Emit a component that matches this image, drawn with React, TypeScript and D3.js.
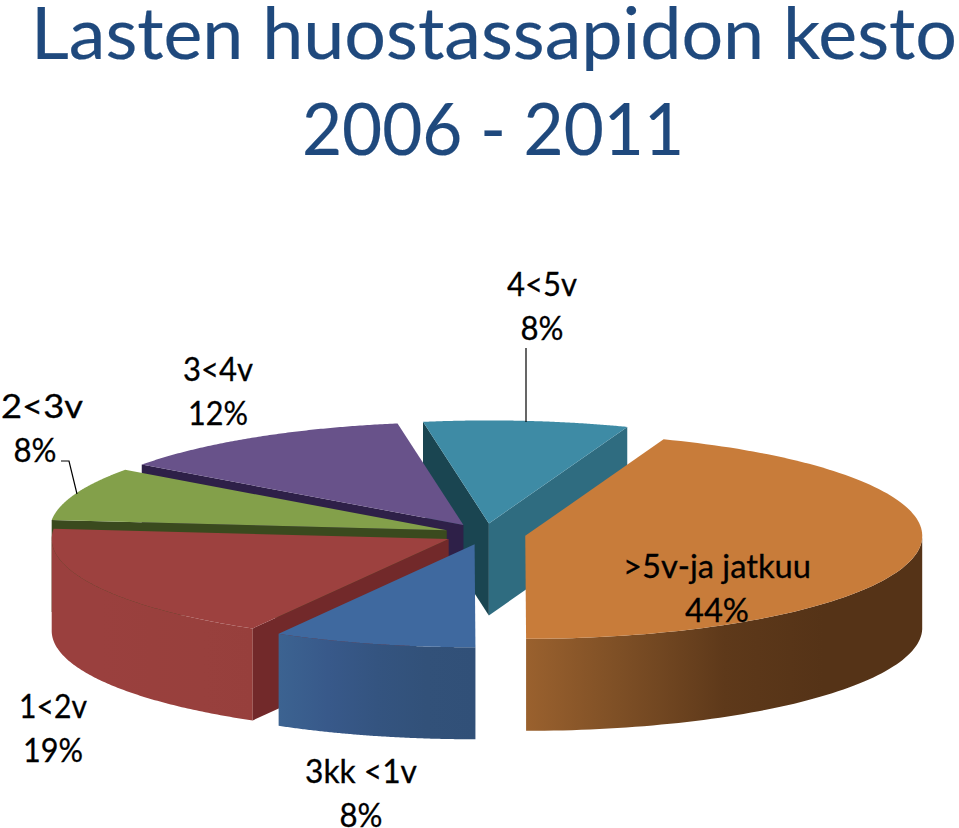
import React from "react";
import * as d3 from "d3";

const categories = [">5v-ja jatkuu", "3kk <1v", "1<2v", "2<3v", "3<4v", "4<5v"];
const percentLabels = ["44%", "8%", "19%", "8%", "12%", "8%"];
const shares = [44.3, 8.25, 18.35, 8.4, 12.38, 8.32];
const topColors = ["#C87C3A", "#3F699F", "#9D413F", "#83A04A", "#68528A", "#3E8BA5"];
const startSideColors = ["none", "none", "#72292A", "#3A4A1E", "#2E2048", "#1A4551"];
const endSideColors = ["none", "none", "none", "none", "none", "#2F6C80"];
const wallStops: string[][] = [
  ["#9A612E", "#7C4E25", "#5E391A", "#553317", "#553317"],
  ["#3C6391", "#38598A", "#345480", "#325179", "#315078"],
  ["#9A403E", "#9A403E", "#99403D", "#98403D", "#973F3C"],
  ["#83A04A"], ["#68528A"], ["#3E8BA5"],
];

const WIDTH = 959, HEIGHT = 828;
const CX = 485, CY = 534, RX = 397, RY = 103, DEPTH = 92, EXPLODE = 0.103;
const START_ANGLE = (20.4 * Math.PI) / 180;

const pieGen = d3.pie<number>().sort(null).startAngle(START_ANGLE).endAngle(START_ANGLE + 2 * Math.PI);
const arcs = pieGen(shares);
const line = d3.line();

function Slice({ i }: { i: number }) {
  const { startAngle: a0, endAngle: a1 } = arcs[i];
  const mid = (a0 + a1) / 2;
  const ax = CX + EXPLODE * RX * Math.sin(mid);
  const ay = CY - EXPLODE * RY * Math.cos(mid);
  const rim = (a: number): [number, number] => [ax + RX * Math.sin(a), ay - RY * Math.cos(a)];
  const apex: [number, number] = [ax, ay];
  const drop = (p: [number, number]): [number, number] => [p[0], p[1] + DEPTH];
  const samples = d3.range(0, 121).map((k) => a0 + ((a1 - a0) * k) / 120);
  const top = [apex, ...samples.map(rim)];

  // outer wall: the part of the rim that faces the viewer
  const wallAngles = samples.filter((a) => Math.cos(a) < 0);
  const wallTop = wallAngles.map(rim);
  const wall = [...wallTop, ...wallTop.map(drop).reverse()];
  const gid = `wall${i}`;
  const xs = wallTop.map((p) => p[0]);
  const stops = wallStops[i];

  const side = (p: [number, number]) => [apex, p, drop(p), drop(apex)] as [number, number][];
  return (
    <g>
      {wall.length > 0 && (
        <>
          <defs>
            <linearGradient id={gid} gradientUnits="userSpaceOnUse" x1={d3.min(xs)} x2={d3.max(xs)} y1={0} y2={0}>
              {stops.map((c, k) => (
                <stop key={k} offset={stops.length > 1 ? k / (stops.length - 1) : 0} stopColor={c} />
              ))}
            </linearGradient>
          </defs>
          <path d={line(wall) as string} fill={`url(#${gid})`} />
        </>
      )}
      {startSideColors[i] !== "none" && <path d={line(side(rim(a0))) as string} fill={startSideColors[i]} />}
      {endSideColors[i] !== "none" && <path d={line(side(rim(a1))) as string} fill={endSideColors[i]} />}
      <path d={(line(top) as string) + "Z"} fill={topColors[i]} />
    </g>
  );
}

const font = "Lato, Carlito, Calibri, sans-serif";

function Label({ x, y, lines, w }: { x: number; y: number; lines: string[]; w: number[] }) {
  return (
    <g fontFamily={font} fontSize={32} fill="#000" stroke="#000" strokeWidth={0.3} textAnchor="middle">
      {lines.map((t, k) => (
        <text key={k} x={x} y={y + k * 44} textLength={w[k]} lengthAdjust="spacingAndGlyphs">
          {t}
        </text>
      ))}
    </g>
  );
}

export default function App() {
  const order = d3.range(arcs.length).reverse();
  return (
    <svg width={WIDTH} height={HEIGHT} viewBox={`0 0 ${WIDTH} ${HEIGHT}`} style={{ position: "absolute", left: 0, top: 0, background: "#fff" }}>
      <g fontFamily={font} fontSize={72} fill="#1F497D" stroke="#1F497D" strokeWidth={0.2} textAnchor="middle">
        <text x={494} y={59} textLength={926} lengthAdjust="spacingAndGlyphs">Lasten huostassapidon kesto</text>
        <text x={493} y={155} textLength={382} lengthAdjust="spacingAndGlyphs">2006 - 2011</text>
      </g>
      {order.map((i) => <Slice key={i} i={i} />)}
      <path d="M526,348V422" stroke="#000" strokeWidth={1.2} fill="none" />
      <path d="M61,461H69L77,494" stroke="#000" strokeWidth={1.2} fill="none" />
      <Label x={717} y={578} lines={[categories[0], percentLabels[0]]} w={[188, 64]} />
      <Label x={361} y={783} lines={[categories[1], percentLabels[1]]} w={[112, 43]} />
      <Label x={53} y={718} lines={[categories[2], percentLabels[2]]} w={[68, 60]} />
      <Label x={42} y={418} lines={[categories[3]]} w={[82]} />
      <Label x={35} y={462} lines={[percentLabels[3]]} w={[43]} />
      <Label x={218} y={381} lines={[categories[4], percentLabels[4]]} w={[70, 60]} />
      <Label x={542} y={296} lines={[categories[5], percentLabels[5]]} w={[70, 43]} />
    </svg>
  );
}
